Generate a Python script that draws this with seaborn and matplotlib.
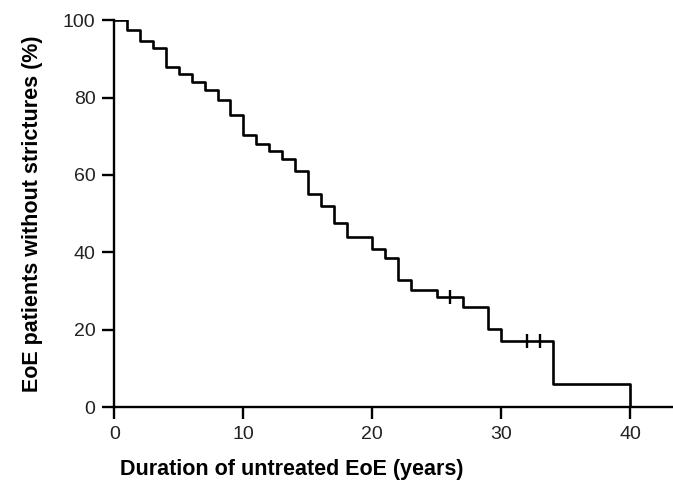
import matplotlib

matplotlib.use("Agg")
import matplotlib.pyplot as plt
import pandas as pd
import seaborn as sns

# Kaplan-Meier estimate
years = [0, 1, 2, 3, 4, 5, 6, 7, 8, 9, 10, 11, 12, 13, 14, 15, 16, 17, 18,
         20, 21, 22, 23, 25, 27, 29, 30, 34, 40]
pct_free = [100, 97.4, 94.6, 92.9, 87.9, 86.0, 84.1, 81.9, 79.3, 75.4, 70.3,
            67.9, 66.1, 64.0, 61.0, 55.0, 51.9, 47.5, 44.0, 40.8, 38.6, 32.8,
            30.3, 28.5, 25.8, 20.1, 17.1, 5.9, 0]

# censored observations
censor_years = [26, 32, 33]
censor_pct = [28.5, 17.1, 17.1]

km = pd.DataFrame({"years": years, "pct": pct_free})
cens = pd.DataFrame({"years": censor_years, "pct": censor_pct})

sns.set_style("ticks")
plt.rcParams["font.family"] = ["Liberation Sans", "DejaVu Sans"]

fig = plt.figure(figsize=(6.73, 4.91), dpi=100)
ax = fig.add_axes([0.1698, 0.171, 0.8302, 0.788])

sns.lineplot(data=km, x="years", y="pct", drawstyle="steps-post",
             color="black", linewidth=1.9, estimator=None, sort=False, ax=ax)
sns.scatterplot(data=cens, x="years", y="pct", marker="|", s=110,
                color="black", linewidth=1.7, ax=ax)

ax.set_xlim(0, 43.3)
ax.set_ylim(0, 100)
ax.set_xticks([0, 10, 20, 30, 40])
ax.set_yticks([0, 20, 40, 60, 80, 100])
ax.tick_params(axis="both", length=8.5, width=1.7, labelsize=14, pad=5,
               colors="black", labelcolor="#222222")
for side in ["left", "bottom"]:
    ax.spines[side].set_linewidth(1.7)
    ax.spines[side].set_color("black")
sns.despine(ax=ax)

ax.set_xlabel("Duration of untreated EoE (years)", fontsize=15.5,
              fontweight="bold", color="black")
ax.set_ylabel("EoE patients without strictures (%)", fontsize=15.5,
              fontweight="bold", labelpad=14, color="black")
# Prism-style label sits left of the axis centre
ax.xaxis.set_label_coords(0.317, -0.135)

fig.savefig("out.png", dpi=100)
